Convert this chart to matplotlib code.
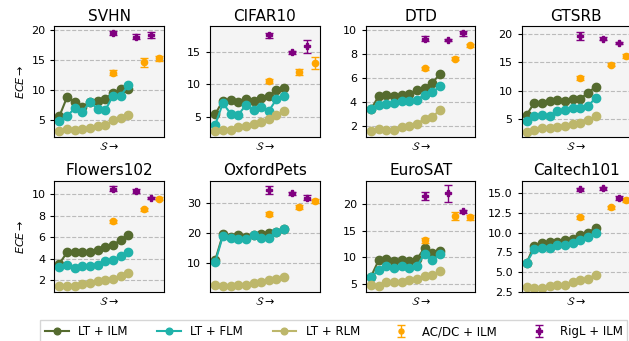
import numpy as np
import matplotlib
matplotlib.use('Agg')
import matplotlib.pyplot as plt

datasets = ['SVHN', 'CIFAR10', 'DTD', 'GTSRB', 'Flowers102', 'OxfordPets', 'EuroSAT', 'Caltech101']

lt_x = np.arange(10)
acdc_x = [7, 11, 13]
rigl_x = [7, 10, 12]

lt_ilm = {
    'SVHN': [5.6, 8.8, 8.0, 7.2, 7.9, 8.2, 8.5, 9.5, 10.1, 10.1],
    'CIFAR10': [5.4, 7.5, 7.6, 7.3, 7.7, 7.5, 7.9, 8.2, 9.1, 9.4],
    'DTD': [3.4, 4.5, 4.55, 4.5, 4.6, 4.7, 5.0, 5.2, 5.6, 6.3],
    'GTSRB': [5.8, 7.9, 7.9, 8.2, 8.3, 8.2, 8.6, 8.6, 9.6, 10.7],
    'Flowers102': [3.55, 4.6, 4.65, 4.65, 4.6, 4.8, 5.05, 5.3, 5.75, 6.25],
    'OxfordPets': [10.9, 19.6, 18.8, 19.3, 18.8, 19.3, 19.6, 19.9, 20.4, 21.3],
    'EuroSAT': [6.3, 9.4, 9.7, 9.3, 9.4, 9.3, 9.6, 11.8, 10.7, 11.1],
    'Caltech101': [6.2, 8.35, 8.7, 8.8, 8.85, 9.05, 9.2, 9.7, 10.0, 10.55],
}
lt_flm = {
    'SVHN': [4.8, 5.6, 6.9, 6.3, 8.0, 6.8, 6.6, 9.0, 9.0, 10.8],
    'CIFAR10': [3.8, 7.1, 5.5, 5.3, 6.8, 6.1, 6.5, 5.9, 7.7, 8.2],
    'DTD': [3.4, 3.8, 3.85, 3.9, 4.05, 4.05, 4.2, 4.6, 4.8, 5.3],
    'GTSRB': [4.7, 5.5, 5.8, 5.5, 6.5, 6.7, 6.9, 7.0, 7.3, 8.75],
    'Flowers102': [3.25, 3.4, 3.1, 3.35, 3.35, 3.4, 3.75, 3.85, 4.3, 4.6],
    'OxfordPets': [10.3, 19.1, 18.4, 18.0, 18.0, 19.3, 18.4, 18.2, 20.2, 21.3],
    'EuroSAT': [6.3, 7.5, 8.3, 7.85, 8.3, 8.0, 8.3, 10.6, 9.4, 10.5],
    'Caltech101': [6.2, 7.9, 8.1, 8.1, 8.4, 8.4, 8.7, 9.0, 9.4, 9.95],
}
lt_rlm = {
    'SVHN': [3.1, 3.5, 3.2, 3.4, 3.6, 4.0, 4.1, 4.9, 5.2, 5.8],
    'CIFAR10': [2.9, 3.0, 3.0, 3.4, 3.6, 3.9, 4.2, 4.6, 5.3, 5.9],
    'DTD': [1.6, 1.75, 1.65, 1.7, 1.9, 2.0, 2.2, 2.6, 2.75, 3.35],
    'GTSRB': [2.8, 3.2, 3.4, 3.5, 3.7, 3.8, 4.1, 4.4, 4.8, 5.5],
    'Flowers102': [1.45, 1.5, 1.5, 1.6, 1.75, 1.9, 2.0, 2.1, 2.4, 2.7],
    'OxfordPets': [2.5, 2.1, 2.2, 2.5, 2.7, 3.3, 3.6, 4.2, 4.7, 5.1],
    'EuroSAT': [4.7, 4.55, 5.2, 5.2, 5.2, 5.6, 5.95, 6.4, 6.7, 7.3],
    'Caltech101': [3.15, 3.05, 3.05, 3.2, 3.35, 3.35, 3.7, 4.0, 4.2, 4.65],
}
acdc_mean = {
    'SVHN': [12.9, 14.6, 15.3],
    'CIFAR10': [10.5, 11.9, 13.3],
    'DTD': [6.8, 7.6, 8.7],
    'GTSRB': [12.2, 14.55, 16.1],
    'Flowers102': [7.5, 8.6, 9.6],
    'OxfordPets': [26.4, 28.8, 30.8],
    'EuroSAT': [13.2, 17.8, 17.5],
    'Caltech101': [11.9, 13.2, 14.1],
}
acdc_err = {
    'SVHN': [0.4, 0.8, 0.4],
    'CIFAR10': [0.3, 0.5, 0.9],
    'DTD': [0.15, 0.15, 0.15],
    'GTSRB': [0.3, 0.3, 0.3],
    'Flowers102': [0.15, 0.15, 0.15],
    'OxfordPets': [0.8, 0.6, 0.6],
    'EuroSAT': [0.5, 0.7, 0.4],
    'Caltech101': [0.2, 0.2, 0.2],
}
rigl_mean = {
    'SVHN': [19.5, 18.9, 19.2],
    'CIFAR10': [17.5, 14.9, 15.8],
    'DTD': [9.25, 9.15, 9.7],
    'GTSRB': [19.6, 19.1, 18.3],
    'Flowers102': [10.55, 10.3, 9.7],
    'OxfordPets': [34.5, 33.4, 31.9],
    'EuroSAT': [21.6, 22.1, 18.7],
    'Caltech101': [15.45, 15.6, 14.35],
}
rigl_err = {
    'SVHN': [0.3, 0.4, 0.5],
    'CIFAR10': [0.4, 0.2, 1.0],
    'DTD': [0.2, 0.1, 0.2],
    'GTSRB': [0.7, 0.3, 0.2],
    'Flowers102': [0.2, 0.2, 0.1],
    'OxfordPets': [1.2, 0.5, 0.8],
    'EuroSAT': [0.7, 1.6, 0.3],
    'Caltech101': [0.2, 0.2, 0.2],
}

ylims = {
    'SVHN': (2.07, 20.7), 'CIFAR10': (1.9, 18.9), 'DTD': (1.1, 10.3), 'GTSRB': (1.9, 21.3),
    'Flowers102': (0.9, 11.25), 'OxfordPets': (0.2, 37.5), 'EuroSAT': (3.4, 24.4), 'Caltech101': (2.5, 16.5),
}
yticks = {
    'SVHN': [5, 10, 15, 20], 'CIFAR10': [5, 10, 15], 'DTD': [2, 4, 6, 8, 10], 'GTSRB': [5, 10, 15, 20],
    'Flowers102': [2, 4, 6, 8, 10], 'OxfordPets': [10, 20, 30], 'EuroSAT': [5, 10, 15, 20],
    'Caltech101': [2.5, 5.0, 7.5, 10.0, 12.5, 15.0],
}

c_ilm = '#556b2f'
c_flm = '#20b2aa'
c_rlm = '#bdb76b'
c_acdc = '#ffa500'
c_rigl = '#800080'

fig = plt.figure(figsize=(6.29, 3.41), dpi=100)

lefts = [0.0866, 0.3343, 0.5819, 0.8294]
bottoms = [0.598, 0.1437]
w, h = 0.174, 0.3255

handles = None
for i, name in enumerate(datasets):
    ax = fig.add_axes([lefts[i % 4], bottoms[i // 4], w, h])
    ax.set_facecolor('#f4f4f4')
    ax.grid(axis='y', linestyle='--', color='#bbbbbb', linewidth=0.8)
    ax.set_axisbelow(True)

    l1, = ax.plot(lt_x, lt_ilm[name], '-o', color=c_ilm, ms=6, lw=1.5, label='LT + ILM')
    l2, = ax.plot(lt_x, lt_flm[name], '-o', color=c_flm, ms=6, lw=1.5, label='LT + FLM')
    l3, = ax.plot(lt_x, lt_rlm[name], '-o', color=c_rlm, ms=6, lw=1.5, label='LT + RLM')
    e1 = ax.errorbar(acdc_x, acdc_mean[name], yerr=acdc_err[name], fmt='o', color=c_acdc,
                     ms=4.5, capsize=3, elinewidth=1, label='AC/DC + ILM')
    e2 = ax.errorbar(rigl_x, rigl_mean[name], yerr=rigl_err[name], fmt='P', color=c_rigl,
                     ms=5, capsize=3, elinewidth=1, label='RigL + ILM')
    handles = [l1, l2, l3, e1, e2]

    ax.set_xlim(-0.65, 13.65)
    ax.set_ylim(*ylims[name])
    ax.set_yticks(yticks[name])
    ax.set_xticks([])
    ax.tick_params(axis='y', labelsize=8, length=3)
    ax.set_title(name, fontsize=11, pad=4)
    ax.set_xlabel(r'$\mathcal{S} \rightarrow$', fontsize=8, labelpad=2)
    if i % 4 == 0:
        ax.set_ylabel(r'$ECE \rightarrow$', fontsize=8)

fig.legend(handles=handles, labels=[hd.get_label() for hd in handles], ncol=5, fontsize=8.5,
           loc='upper left', bbox_to_anchor=(0.055, 0.078), frameon=True, fancybox=False,
           edgecolor='#cccccc', markerscale=0.8, columnspacing=2.5)

plt.savefig('out.png', dpi=100)
